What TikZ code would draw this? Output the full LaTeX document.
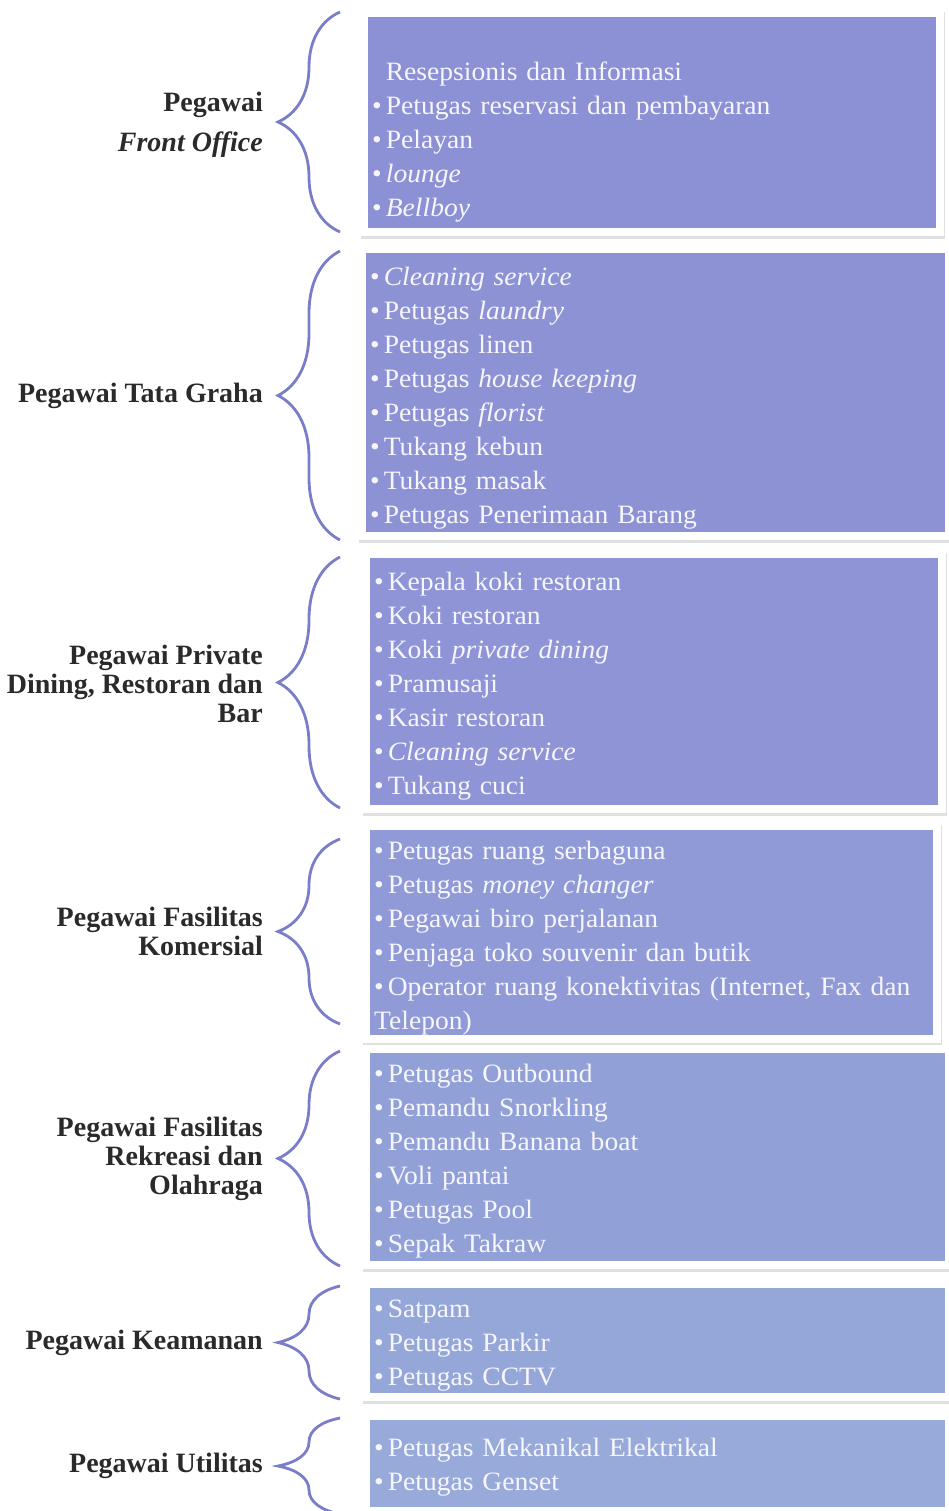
\documentclass[tikz,border=0pt]{standalone}
\usepackage{fontspec}
\setmainfont{Liberation Serif}
\newfontfamily\itemfont[FakeStretch=1.04]{Liberation Serif}
\usetikzlibrary{decorations.pathreplacing}

\definecolor{braceblue}{RGB}{122,126,200}
\definecolor{labelgray}{RGB}{42,42,42}
\definecolor{itemwhite}{RGB}{246,246,252}
\definecolor{boxa}{RGB}{140,144,212}
\definecolor{boxb}{RGB}{141,146,213}
\definecolor{boxc}{RGB}{142,148,214}
\definecolor{boxd}{RGB}{144,154,214}
\definecolor{boxe}{RGB}{146,160,216}
\definecolor{boxf}{RGB}{149,166,217}
\definecolor{boxg}{RGB}{152,170,218}

% bullet of a list line, and a tall first line
\newcommand{\itm}{\textbullet\hspace{4pt}}
\newcommand{\topline}[1]{\rule{0pt}{#1}}

\tikzset{
  panel/.style={anchor=north west, fill=#1, text=itemwhite, align=left,
    inner xsep=4pt, inner ysep=0pt, font=\itemfont\fontsize{26.5}{34}\selectfont,
    preaction={draw=black!12, line width=16pt,
      transform canvas={xshift=1pt,yshift=-2.5pt}},
    preaction={draw=white, line width=16pt}},
  grouplabel/.style={anchor=east, align=right, text=labelgray, inner sep=0pt,
    font=\fontsize{28}{29}\selectfont\bfseries},
  curly/.style={draw=braceblue, line width=2.8pt, decorate,
    decoration={brace, amplitude=62pt}}
}

\begin{document}
\begin{tikzpicture}[x=1pt, y=-1pt]
\useasboundingbox (0,0) rectangle (949,1511);

% lists of staff, one panel per department
\node [panel=boxa, text width=560, minimum height=211] (fo) at (368,17)
  {\topline{24pt}\\
   \phantom{\itm}Resepsionis dan Informasi\\
   \itm Petugas reservasi dan pembayaran\\
   \itm Pelayan\\
   \itm\textit{lounge}\\
   \itm\textit{Bellboy}};
\node [panel=boxb, text width=571, minimum height=279] (tg) at (366,253)
  {\topline{29pt}\itm\textit{Cleaning service}\\
   \itm Petugas \textit{laundry}\\
   \itm Petugas linen\\
   \itm Petugas \textit{house keeping}\\
   \itm Petugas \textit{florist}\\
   \itm Tukang kebun\\
   \itm Tukang masak\\
   \itm Petugas Penerimaan Barang};
\node [panel=boxc, text width=560, minimum height=247] (dr) at (370,558)
  {\topline{27pt}\itm Kepala koki restoran\\
   \itm Koki restoran\\
   \itm Koki \textit{private dining}\\
   \itm Pramusaji\\
   \itm Kasir restoran\\
   \itm\textit{Cleaning service}\\
   \itm Tukang cuci};
\node [panel=boxd, text width=555, minimum height=198] (fk) at (370,830)
  {\topline{29pt}\itm Petugas ruang serbaguna\\
   \itm Petugas \textit{money changer}\\
   \itm Pegawai biro perjalanan\\
   \itm Penjaga toko souvenir dan butik\\
   \itm Operator ruang konektivitas (Internet, Fax dan\\
   Telepon)};
\node [panel=boxe, text width=567, minimum height=208] (fr) at (370,1053)
  {\topline{27pt}\itm Petugas Outbound\\
   \itm Pemandu Snorkling\\
   \itm Pemandu Banana boat\\
   \itm Voli pantai\\
   \itm Petugas Pool\\
   \itm Sepak Takraw};
\node [panel=boxf, text width=567, minimum height=105] (km) at (370,1288)
  {\topline{28pt}\itm Satpam\\
   \itm Petugas Parkir\\
   \itm Petugas CCTV};
\node [panel=boxg, text width=567, minimum height=87] (ut) at (370,1420)
  {\topline{26pt}\itm Petugas Mekanikal Elektrikal\\
   \itm Petugas Genset};

% braces, drawn bottom to top so the tip faces left
\coordinate (fo-s) at (340,232);  \coordinate (fo-n) at (340,12);
\coordinate (tg-s) at (340,540);  \coordinate (tg-n) at (340,251);
\coordinate (dr-s) at (340,808);  \coordinate (dr-n) at (340,557);
\coordinate (fk-s) at (340,1024); \coordinate (fk-n) at (340,839);
\coordinate (fr-s) at (340,1266); \coordinate (fr-n) at (340,1051);
\coordinate (km-s) at (340,1399); \coordinate (km-n) at (340,1286);
\coordinate (ut-s) at (340,1514); \coordinate (ut-n) at (340,1418);
\draw [curly] (fo-s) -- (fo-n);
\draw [curly] (tg-s) -- (tg-n);
\draw [curly] (dr-s) -- (dr-n);
\draw [curly] (fk-s) -- (fk-n);
\draw [curly] (fr-s) -- (fr-n);
\draw [curly] (km-s) -- (km-n);
\draw [curly] (ut-s) -- (ut-n);

% department names
\node [grouplabel] (fo-name) at (263,125) {Pegawai\\[11pt]\textit{Front Office}};
\node [grouplabel] (tg-name) at (263,396) {Pegawai Tata Graha};
\node [grouplabel] (dr-name) at (263,684) {Pegawai Private\\Dining, Restoran dan\\Bar};
\node [grouplabel] (fk-name) at (263,931) {Pegawai Fasilitas\\Komersial};
\node [grouplabel] (fr-name) at (263,1159) {Pegawai Fasilitas\\Rekreasi dan\\Olahraga};
\node [grouplabel] (km-name) at (263,1343) {Pegawai Keamanan};
\node [grouplabel] (ut-name) at (263,1466) {Pegawai Utilitas};

\end{tikzpicture}
\end{document}
